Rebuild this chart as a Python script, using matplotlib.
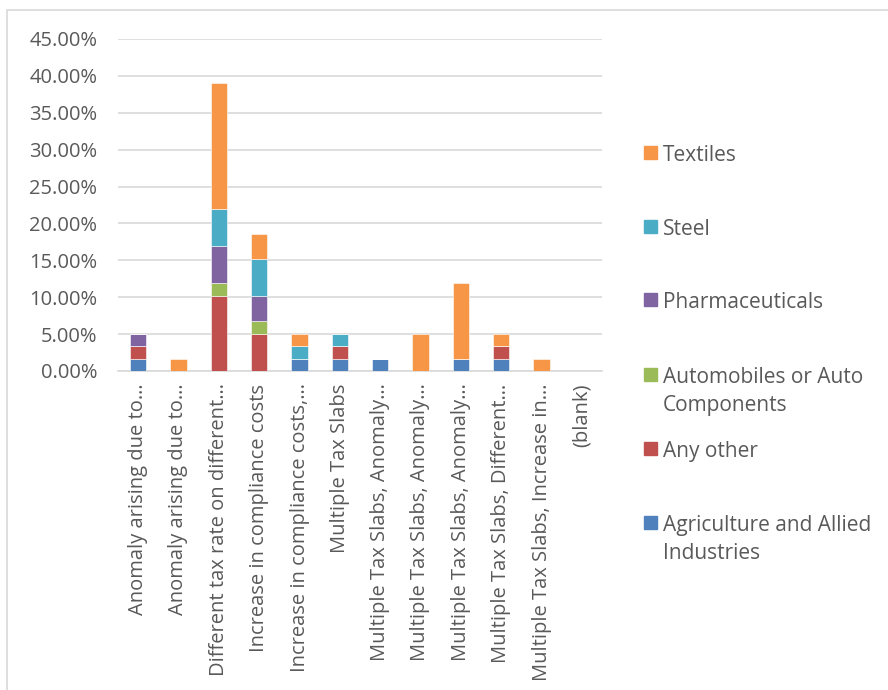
import matplotlib.pyplot as plt
from matplotlib.patches import Rectangle
import numpy as np

plt.rcParams['font.family'] = ['Open Sans', 'DejaVu Sans']

categorias = [
    'Anomaly arising due to…',
    'Anomaly arising due to…',
    'Different tax rate on different…',
    'Increase in compliance costs',
    'Increase in compliance costs,…',
    'Multiple Tax Slabs',
    'Multiple Tax Slabs, Anomaly…',
    'Multiple Tax Slabs, Anomaly…',
    'Multiple Tax Slabs, Anomaly…',
    'Multiple Tax Slabs, Different…',
    'Multiple Tax Slabs, Increase in…',
    '(blank)',
]

# porcentajes por sector (de abajo hacia arriba en la pila)
agricultura = [1.69, 0, 0, 0, 1.69, 1.69, 1.69, 0, 1.69, 1.69, 0, 0]
otro = [1.69, 0, 10.17, 5.08, 0, 1.69, 0, 0, 0, 1.69, 0, 0]
automoviles = [0, 0, 1.69, 1.69, 0, 0, 0, 0, 0, 0, 0, 0]
farma = [1.69, 0, 5.08, 3.39, 0, 0, 0, 0, 0, 0, 0, 0]
acero = [0, 0, 5.08, 5.08, 1.69, 1.69, 0, 0, 0, 0, 0, 0]
textiles = [0, 1.69, 16.95, 3.39, 1.69, 0, 0, 5.08, 10.17, 1.69, 1.69, 0]

series = [
    ('Agriculture and Allied\nIndustries', agricultura, '#4F81BD'),
    ('Any other', otro, '#C0504D'),
    ('Automobiles or Auto\nComponents', automoviles, '#9BBB59'),
    ('Pharmaceuticals', farma, '#8064A2'),
    ('Steel', acero, '#4BACC6'),
    ('Textiles', textiles, '#F79646'),
]

fig = plt.figure(figsize=(8.88, 6.9), dpi=100)
ax = fig.add_axes([118/888, 1-371/690, (602-118)/888, (371-39)/690])

x = np.arange(len(categorias))
base = np.zeros(len(categorias))
for nombre, vals, color in series:
    vals = np.array(vals)
    ax.bar(x, vals, width=0.4, bottom=base, color=color, edgecolor='white', linewidth=0.4, zorder=3)
    base += vals

ax.set_xlim(-0.5, len(categorias) - 0.5)
ax.set_ylim(0, 45)
ax.set_yticks(np.arange(0, 46, 5))
ax.set_yticklabels(['%.2f%%' % v for v in np.arange(0, 46, 5)], fontsize=14.5, color='#595959')
ax.set_xticks(x)
ax.set_xticklabels(categorias, rotation=90, fontsize=14.5, color='#595959', va='top', ha='center')
ax.tick_params(axis='x', length=0, pad=9)
ax.tick_params(axis='y', length=0, pad=15)
ax.grid(axis='y', color='#D9D9D9', linewidth=1.2, zorder=0)
for s in ['top', 'right', 'left']:
    ax.spines[s].set_visible(False)
ax.spines['bottom'].set_color('#D9D9D9')
ax.spines['bottom'].set_linewidth(1.2)

# leyenda manual a la derecha
posiciones = [153, 227, 300, 375, 449, 523]
for (nombre, vals, color), yp in zip(reversed(series), posiciones):
    fig.add_artist(Rectangle((644/888, 1-(yp+6)/690), 13/888, 13/690,
                             transform=fig.transFigure, color=color))
    fig.text(663/888, 1-(yp-8)/690, nombre, fontsize=15, color='#595959',
             va='top', ha='left', linespacing=1.45)

# marco del grafico
fig.add_artist(Rectangle((7/888, -0.05), 1.0, 1-10/690+0.05, transform=fig.transFigure,
                         fill=False, edgecolor='#D9D9D9', linewidth=1.2))

plt.savefig('out.png', dpi=100)
